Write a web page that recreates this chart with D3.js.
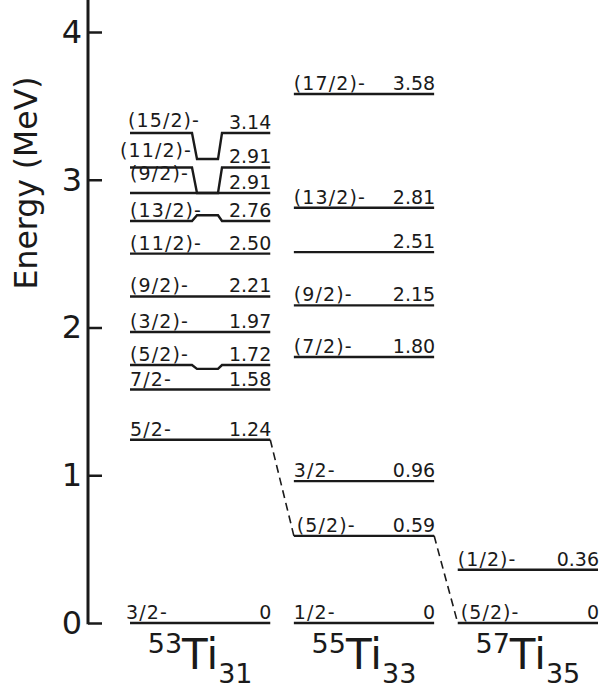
<!DOCTYPE html>
<html><head><meta charset="utf-8">
<script src="https://cdn.jsdelivr.net/npm/d3@7/dist/d3.min.js"></script>
<style>body{margin:0;background:#fff} svg{display:block}</style>
</head><body><svg id="c" width="603" height="688"></svg>
<script>
// ---- data ----
const isotopes = ["53Ti31", "55Ti33", "57Ti35"];
const massNumbers = ["53", "55", "57"];
const neutronNumbers = ["31", "33", "35"];
const yTicks = [0, 1, 2, 3, 4];

const levelIsotope = ["53Ti31","53Ti31","53Ti31","53Ti31","53Ti31","53Ti31","53Ti31","53Ti31","53Ti31","53Ti31","53Ti31",
                      "55Ti33","55Ti33","55Ti33","55Ti33","55Ti33","55Ti33","55Ti33","55Ti33",
                      "57Ti35","57Ti35"];
const levelEnergy = [0, 1.24, 1.58, 1.72, 1.97, 2.21, 2.50, 2.76, 2.91, 2.91, 3.14,
                     0, 0.59, 0.96, 1.80, 2.15, 2.51, 2.81, 3.58,
                     0, 0.36];
// energy at which the level's labels (and the outer parts of the line) are drawn
const levelLabelEnergy = [0, 1.24, 1.58, 1.746, 1.97, 2.21, 2.50, 2.721, 2.91, 3.083, 3.316,
                          0, 0.59, 0.96, 1.80, 2.15, 2.51, 2.81, 3.58,
                          0, 0.36];
const levelSpin = ["3/2-", "5/2-", "7/2-", "(5/2)-", "(3/2)-", "(9/2)-", "(11/2)-", "(13/2)-", "(9/2)-", "(11/2)-", "(15/2)-",
                   "1/2-", "(5/2)-", "3/2-", "(7/2)-", "(9/2)-", "", "(13/2)-", "(17/2)-",
                   "(5/2)-", "(1/2)-"];
const levelValue = ["0", "1.24", "1.58", "1.72", "1.97", "2.21", "2.50", "2.76", "2.91", "2.91", "3.14",
                    "0", "0.59", "0.96", "1.80", "2.15", "2.51", "2.81", "3.58",
                    "0", "0.36"];
// dashed connections between levels (index pairs)
const linkFrom = [1, 12];
const linkTo = [12, 19];

// ---- drawing ----
const svg = d3.select("#c");
const FONT = "'DejaVu Sans', Verdana, sans-serif";
const INK = "#1a1a1a";

const y = d3.scaleLinear().domain([0, 4]).range([623, 32]);
const x = d3.scaleBand().domain(isotopes).range([130, 598]).paddingInner(0.144);

// axis
const axisX = 88;
const ag = svg.append("g").attr("transform", `translate(${axisX},0)`)
  .call(d3.axisLeft(y).tickValues(yTicks).tickSizeInner(-14).tickSizeOuter(0).tickPadding(6).tickFormat(d3.format("d")));
ag.select(".domain").remove();
ag.selectAll(".tick line").attr("stroke", INK).attr("stroke-width", 2.5);
ag.selectAll(".tick text").attr("font-size", 32).attr("font-family", FONT).attr("fill", INK);
svg.append("line").attr("x1", axisX).attr("x2", axisX).attr("y1", 0).attr("y2", y(0) + 1.25)
  .attr("stroke", INK).attr("stroke-width", 3);

svg.append("text")
  .attr("transform", `translate(37,183) rotate(-90)`)
  .attr("text-anchor", "middle")
  .attr("font-size", 31.5).attr("font-family", FONT).attr("fill", INK)
  .text("Energy (MeV)");

// levels
const levels = levelEnergy.map((e, i) => ({
  i, e, le: levelLabelEnergy[i], iso: levelIsotope[i], spin: levelSpin[i], val: levelValue[i]
}));

const lineGen = d3.line();
levels.forEach(d => {
  const x0 = x(d.iso), x1 = x0 + x.bandwidth();
  const ya = y(d.le), yb = y(d.e);
  let pts;
  if (Math.abs(ya - yb) > 1) {
    pts = [[x0, ya], [x0 + 62, ya], [x0 + 67, yb], [x0 + 88, yb], [x0 + 92, ya], [x1, ya]];
  } else {
    pts = [[x0, yb], [x1, yb]];
  }
  svg.append("path").attr("d", lineGen(pts)).attr("fill", "none")
    .attr("stroke", INK).attr("stroke-width", 2.4).attr("stroke-linejoin", "miter");
});

// special spin-label offsets [dx, dy]
const spinOffset = {0: [-4, 0], 9: [-10, -6], 8: [0, -9], 10: [-2, -2], 12: [3, 0], 19: [3, 0]};

levels.forEach(d => {
  const x0 = x(d.iso), x1 = x0 + x.bandwidth();
  const yl = y(d.le);
  const off = spinOffset[d.i] || [0, 0];
  if (d.spin) {
    svg.append("text").attr("x", x0 + off[0]).attr("y", yl - 4 + off[1])
      .attr("font-size", 19).attr("letter-spacing", "1.1px")
      .attr("font-family", FONT).attr("fill", INK).text(d.spin);
  }
  svg.append("text").attr("x", x1 + 1).attr("y", yl - 4).attr("text-anchor", "end")
    .attr("font-size", 19).attr("font-family", FONT).attr("fill", INK).text(d.val);
});

// dashed links
linkFrom.forEach((a, k) => {
  const A = levels[a], B = levels[linkTo[k]];
  svg.append("line")
    .attr("x1", x(A.iso) + x.bandwidth()).attr("y1", y(A.e))
    .attr("x2", x(B.iso)).attr("y2", y(B.e))
    .attr("stroke", INK).attr("stroke-width", 1.6).attr("stroke-dasharray", "8,5");
});

// isotope names
isotopes.forEach((iso, k) => {
  const t = svg.append("text").attr("x", x(iso) + x.bandwidth() / 2).attr("y", 669)
    .attr("text-anchor", "middle").attr("font-family", FONT).attr("fill", INK);
  t.append("tspan").attr("font-size", 27).attr("dy", -16).text(massNumbers[k]);
  t.append("tspan").attr("font-size", 42).attr("dy", 16).text("Ti");
  t.append("tspan").attr("font-size", 27).attr("dy", 14).text(neutronNumbers[k]);
});
</script></body></html>
